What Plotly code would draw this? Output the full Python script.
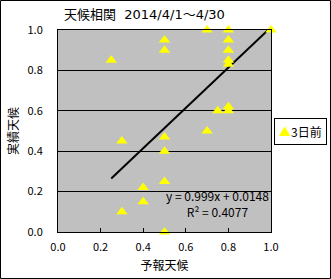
import plotly.graph_objects as go
import numpy as np

# Data
forecast = [0.25, 0.5, 0.5, 0.7, 0.8, 0.8, 0.8, 0.8, 0.8, 1.0,
            0.75, 0.8, 0.8, 0.7, 0.5, 0.3, 0.5, 0.5, 0.4, 0.4, 0.3, 0.5]
actual = [0.85, 0.95, 0.9, 1.0, 1.0, 0.95, 0.9, 0.85, 0.83, 1.0,
          0.6, 0.62, 0.6, 0.5, 0.47, 0.45, 0.4, 0.25, 0.22, 0.15, 0.1, 0.0]
series_name = "3日前"
slope = 0.999
intercept = 0.0148
r2 = 0.4077
tick_vals = [0.0, 0.2, 0.4, 0.6, 0.8, 1.0]
tick_text = ["0.0", "0.2", "0.4", "0.6", "0.8", "1.0"]

FONT = "Noto Sans CJK JP, sans-serif"
TFONT = "DejaVu Sans, Noto Sans CJK JP, sans-serif"

fig = go.Figure()

xt = np.array([min(forecast), max(forecast)])
fig.add_trace(go.Scatter(x=xt, y=slope * xt + intercept, mode="lines",
                         line=dict(color="black", width=2), showlegend=False,
                         hoverinfo="skip"))
fig.add_trace(go.Scatter(x=forecast, y=actual, mode="markers", name=series_name,
                         marker=dict(symbol="triangle-up", size=10, color="#FFFF00",
                                     line=dict(width=0)),
                         cliponaxis=False, showlegend=False))

L, R, T, B = 58, 60, 30, 47
W, H = 331, 279
pw, ph = W - L - R, H - T - B

fig.update_layout(
    width=W, height=H,
    margin=dict(l=L, r=R, t=T, b=B),
    paper_bgcolor="white", plot_bgcolor="#C0C0C0",
    font=dict(family=FONT, size=11, color="black"),
    title=dict(text="天候相関  2014/4/1～4/30", x=64 / W, xanchor="left",
               xref="container", yref="container", y=1 - 14 / H, yanchor="middle",
               font=dict(size=13, color="black", family=TFONT)),
    xaxis=dict(range=[0, 1], tickvals=tick_vals, ticktext=tick_text,
               ticks="inside", ticklen=4, tickcolor="black", showgrid=False,
               showline=True, linecolor="black", linewidth=1, mirror=True,
               zeroline=False, ticklabelstandoff=5, automargin=False,
               title=dict(text="予報天候", font=dict(size=12), standoff=8)),
    yaxis=dict(range=[0, 1], tickvals=tick_vals, ticktext=tick_text,
               ticks="", showgrid=True, gridcolor="black", gridwidth=1,
               showline=True, linecolor="black", linewidth=1, mirror=True,
               zeroline=False, ticklabelstandoff=12, automargin=False,
               title=dict(text="実績天候", font=dict(size=12), standoff=6)),
    showlegend=False,
)

fig.add_annotation(x=0.75, y=0.14, xref="x", yref="y",
                   text=f"y = {slope}x + {intercept}<br>R² = {r2}",
                   showarrow=False, font=dict(size=12), align="center")

fig.add_annotation(x=(274 - L) / pw, y=(T + ph - 131) / ph, xref="paper", yref="paper",
                   xanchor="left", yanchor="middle",
                   text=f"<span style='color:#FFFF00'>▲</span>{series_name}",
                   showarrow=False, font=dict(size=12),
                   bgcolor="white", bordercolor="black", borderwidth=1, borderpad=4)

fig.add_shape(type="rect", xref="paper", yref="paper",
              x0=(0.5 - L) / pw, x1=(W - 0.5 - L) / pw,
              y0=(T + ph - (H - 0.5)) / ph, y1=(T + ph - 0.5) / ph,
              line=dict(color="black", width=1), fillcolor="rgba(0,0,0,0)", layer="below")

fig.write_html("out.html")
